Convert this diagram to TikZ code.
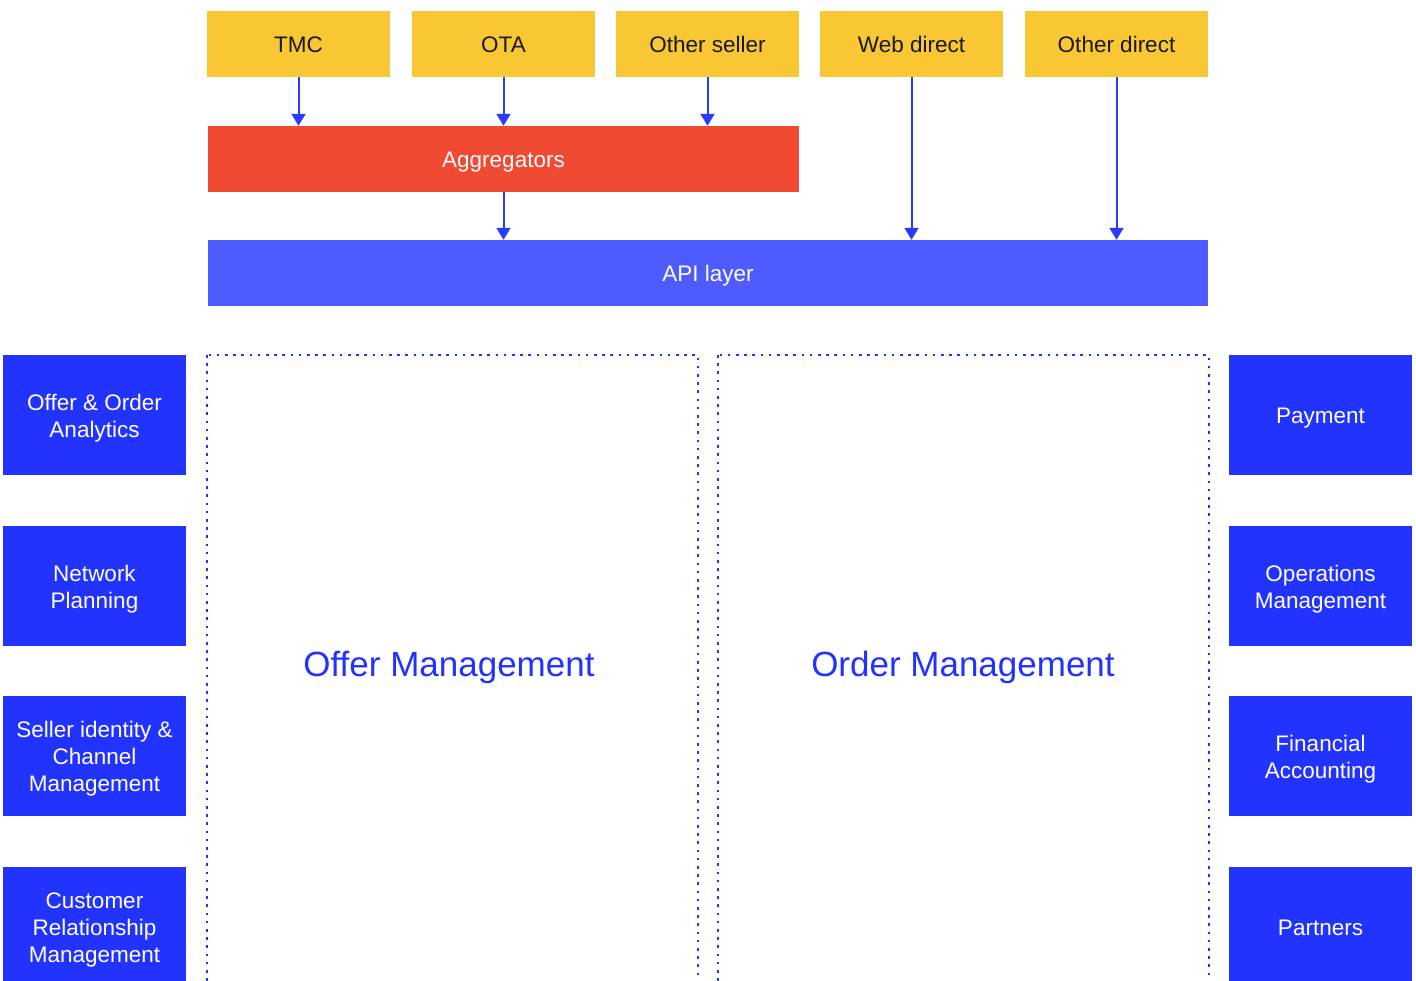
\documentclass[tikz,border=0pt]{standalone}
\usepackage{fontspec}
\setmainfont{Liberation Sans}
\usetikzlibrary{arrows.meta}
\definecolor{ylw}{HTML}{F9C733}
\definecolor{rd}{HTML}{F04A33}
\definecolor{api}{HTML}{4D5BFF}
\definecolor{blu}{HTML}{2233FF}
\definecolor{arr}{HTML}{2A3BFF}
\tikzset{
  basebox/.style={draw=none, minimum width=183pt, minimum height=66pt, inner sep=0pt, align=center},
  ybox/.style={basebox, fill=ylw},
  sidebox/.style={basebox, fill=blu, minimum height=120pt},
  lbl/.style={inner sep=0pt, align=center, font=\fontsize{22.5}{27}\selectfont, yshift=-3pt},
  lbl1/.style={inner sep=0pt, anchor=base, font=\fontsize{22.5}{27}\selectfont, yshift=-8pt},
  arrow/.style={draw=arr, line width=2pt, -{Triangle[length=12pt,width=14pt]}},
  dotbox/.style={draw=blu, line width=2.6pt, dash pattern=on 2.6pt off 5.6pt},
  bigtext/.style={text=blu, inner sep=0pt, anchor=base, font=\fontsize{35}{40}\selectfont, yshift=-12pt}
}
\begin{document}
\begin{tikzpicture}[x=1pt,y=-1pt]
\clip (0,0) rectangle (1416,980);
\fill[white] (0,0) rectangle (1416,980);
% top sellers
\node[ybox] (tmc) at (298.5,44) {};
\node[ybox] (ota) at (503.5,44) {};
\node[ybox] (oseller) at (707.5,44) {};
\node[ybox] (web) at (911.5,44) {};
\node[ybox] (odirect) at (1116.5,44) {};
\node[lbl1, text=black!90] (tmct) at (tmc) {TMC};
\node[lbl1, text=black!90] (otat) at (ota) {OTA};
\node[lbl1, text=black!90] (osellert) at (oseller) {Other seller};
\node[lbl1, text=black!90] (webt) at (web) {Web direct};
\node[lbl1, text=black!90] (odirectt) at (odirect) {Other direct};
% aggregators
\node[basebox, fill=rd, minimum width=591pt] (agg) at (503.5,159) {};
\node[lbl1, text=white] (aggt) at (agg) {Aggregators};
% api layer
\node[basebox, fill=api, minimum width=1000pt] (api) at (708,273) {};
\node[lbl1, text=white] (apit) at (api) {API layer};
% arrows
\draw[arrow] (tmc.south) -- (tmc.south |- agg.north);
\draw[arrow] (ota.south) -- (ota.south |- agg.north);
\draw[arrow] (oseller.south) -- (oseller.south |- agg.north);
\draw[arrow] (agg.south) -- (agg.south |- api.north);
\draw[arrow] (web.south) -- (web.south |- api.north);
\draw[arrow] (odirect.south) -- (odirect.south |- api.north);
% dotted containers
\draw[dotbox] (207,355) rectangle (698,1010);
\draw[dotbox] (718,355) rectangle (1209,1010);
\node[bigtext] (offer) at (449,664) {Offer Management};
\node[bigtext] (order) at (963,664) {Order Management};
% left side
\node[sidebox] (analytics) at (94.5,415) {};
\node[sidebox] (network) at (94.5,586) {};
\node[sidebox] (seller) at (94.5,756) {};
\node[sidebox] (crm) at (94.5,927) {};
\node[lbl, text=white] (analyticst) at (analytics) {Offer \& Order\\Analytics};
\node[lbl, text=white] (networkt) at (network) {Network\\Planning};
\node[lbl, text=white] (sellert) at (seller) {Seller identity \&\\Channel\\Management};
\node[lbl, text=white] (crmt) at (crm) {Customer\\Relationship\\Management};
% right side
\node[sidebox] (payment) at (1320.5,415) {};
\node[sidebox] (ops) at (1320.5,586) {};
\node[sidebox] (fin) at (1320.5,756) {};
\node[sidebox] (partners) at (1320.5,927) {};
\node[lbl1, text=white] (paymentt) at (payment) {Payment};
\node[lbl, text=white] (opst) at (ops) {Operations\\Management};
\node[lbl, text=white] (fint) at (fin) {Financial\\Accounting};
\node[lbl1, text=white] (partnerst) at (partners) {Partners};
\end{tikzpicture}
\end{document}
